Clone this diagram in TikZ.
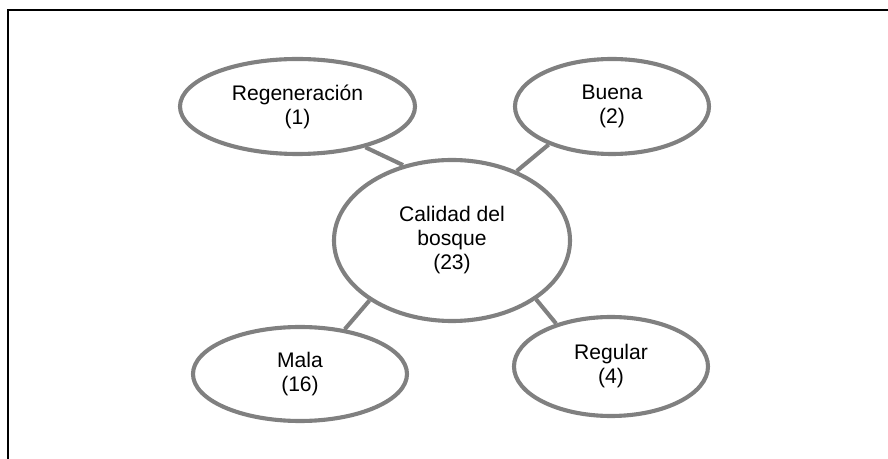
\documentclass[tikz,border=0pt]{standalone}
\usepackage{fontspec}
\setmainfont{Liberation Sans}
\usetikzlibrary{shapes.geometric}

\begin{document}
\begin{tikzpicture}[x=0.03cm,y=-0.03cm]
\tikzset{cat/.style={draw=gray,line width=3.5pt,ellipse,inner sep=0pt,align=center,font=\fontsize{18}{20.5}\selectfont}, link/.style={draw=gray,line width=3.5pt}, frame/.style={draw=black,line width=1.7pt}};
   \useasboundingbox (0,0) rectangle (888,459);
   \draw[frame] (8,480) |- (900,10);

   \node[cat,minimum width=7.08cm,minimum height=4.83cm] at (452,240.5) (cal) {Calidad del\\bosque\\(23)};
   \node[cat,minimum width=7.05cm,minimum height=2.85cm] at (297.5,106.5) (reg) {Regeneración\\(1)};
   \node[cat,minimum width=5.82cm,minimum height=2.85cm] at (612,106.5) (bue) {Buena\\(2)};
   \node[cat,minimum width=6.42cm,minimum height=2.82cm] at (300,374) (mal) {Mala\\(16)};
   \node[cat,minimum width=5.82cm,minimum height=2.97cm] at (611,366.5) (regu) {Regular\\(4)};

   \draw[link] (reg.-31.6) -- (cal.123.9);
   \draw[link] (bue.-149.4) -- (cal.47.3);
   \draw[link] (mal.45) -- (cal.-144.6);
   \draw[link] (regu.142.2) -- (cal.-35.1);
\end{tikzpicture}
\end{document}
